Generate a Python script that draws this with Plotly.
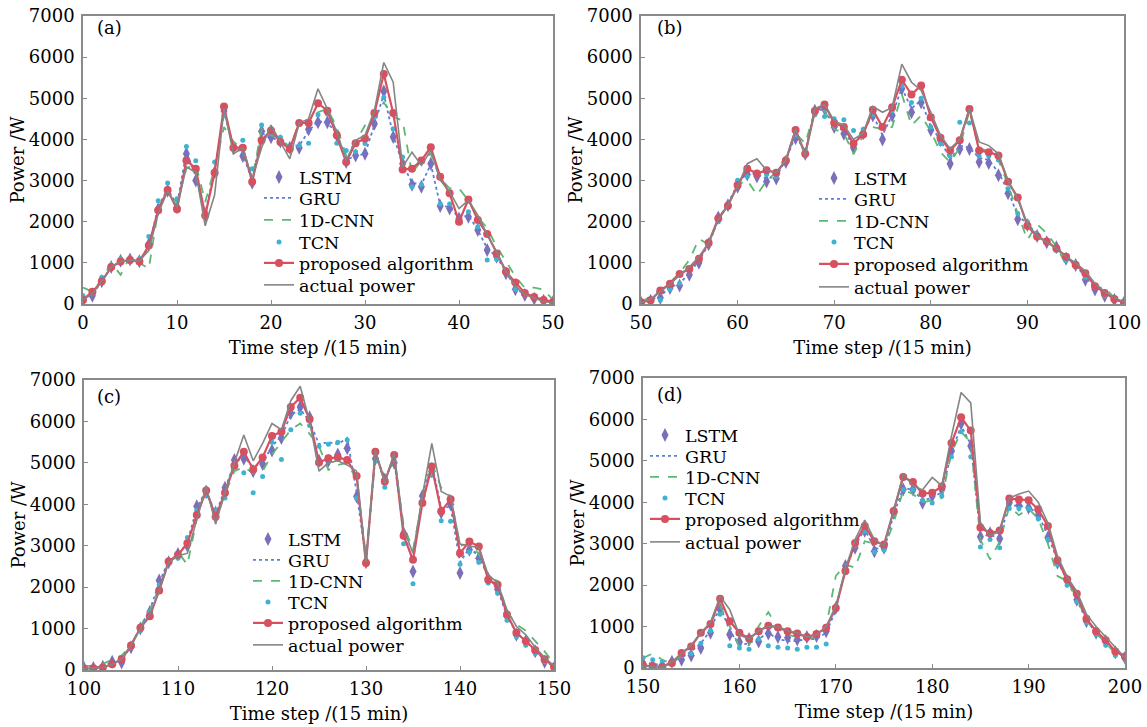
import plotly.graph_objects as go

# ---------------- data ----------------
steps_a = list(range(0, 51))
steps_b = list(range(50, 101))
steps_c = list(range(100, 151))
steps_d = list(range(150, 201))

series_names = ["LSTM", "GRU", "1D-CNN", "TCN", "proposed algorithm", "actual power"]
y_ticks = [0, 1000, 2000, 3000, 4000, 5000, 6000, 7000]
panel_labels = ["(a)", "(b)", "(c)", "(d)"]

# panel (a)
lstm_a = [100,200,550,900,1050,1080,1040,1450,2300,2750,2350,3650,3000,2150,3200,4700,3800,3600,2950,4200,4050,3950,3800,3800,4250,4420,4420,4100,3450,3610,3650,4380,5170,4060,3410,2900,2850,3410,2380,2320,2080,2120,1800,1310,1150,750,360,220,130,80,50]
gru_a = [120,220,560,880,1040,1070,1050,1400,2350,2800,2400,3700,3100,2200,3250,4650,3850,3650,3000,4150,4050,3950,3850,3850,4200,4450,4400,4150,3500,3600,3650,4350,5100,4100,3400,2950,2900,3400,2400,2350,2100,2150,1800,1350,1150,780,380,230,140,80,50]
cnn_a = [400,300,600,1000,710,1150,1000,855,2300,2800,2450,3300,3400,2480,3300,4300,3950,3750,3050,4250,4100,4050,3800,4400,4400,4660,4740,4300,3610,3940,4340,4540,4900,4550,4460,3170,3490,3650,3050,2810,2810,2520,2120,1840,1400,1030,670,390,400,350,100]
tcn_a = [200,250,650,900,1100,1050,1100,1640,2510,2940,2560,3830,3480,2250,3450,4580,3850,3980,3290,4350,4150,4050,3800,3850,3910,4600,4620,3910,3730,3700,3900,4540,5020,4260,3570,2850,2900,3770,2430,2430,2040,2240,1880,1070,1090,830,350,220,150,80,30]
prop_a = [100,300,550,900,1030,1070,1030,1420,2280,2770,2300,3490,3290,2150,3190,4800,3800,3800,2970,3980,4220,3940,3770,4400,4400,4880,4700,4100,3450,3910,4020,4640,5590,4640,3270,3290,3490,3810,3090,2690,2000,2540,2040,1700,1230,790,520,270,170,100,50]
actual_a = [100,250,550,900,1030,1070,1050,1300,2200,2750,2350,3330,3200,1900,2650,4750,3650,3800,3050,3800,4350,3950,3530,4400,4500,5230,4740,4180,3490,3980,4100,4700,5870,5390,3330,3690,3370,3730,3010,2730,2320,2520,2160,1680,1270,790,430,230,150,60,30]

# panel (b)
lstm_b = [30,80,150,390,450,710,1000,1450,2100,2400,2850,3150,3100,2980,3050,3450,4030,3650,4700,4750,4300,4140,3800,4150,4580,4000,4580,5230,4660,4900,4230,3980,3410,3770,3770,3450,3430,3130,2690,2060,1920,1650,1500,1380,1100,950,590,350,200,100,30]
gru_b = [40,100,200,400,500,750,1050,1450,2050,2450,2900,3200,3150,3050,3100,3500,4100,3700,4750,4700,4350,4200,3850,4200,4600,4100,4600,5250,4750,4950,4300,4000,3500,3850,3800,3550,3500,3200,2750,2150,1950,1700,1500,1400,1150,950,650,400,250,120,40]
cnn_b = [50,185,350,530,750,1070,1580,1450,2050,2400,2900,3010,2650,3000,3200,3600,4150,3900,4700,4700,4250,4150,3640,4100,4300,4250,4300,5100,4340,4580,4200,3690,3450,3800,4700,3800,3700,3500,2900,2200,1560,1940,1720,1400,950,1050,650,400,400,150,50]
tcn_b = [50,100,100,350,500,800,1050,1450,2000,2350,3010,3100,3200,3150,3100,3500,4100,3700,4600,4560,4500,4480,4220,4250,4600,4300,4700,5300,4900,5000,4300,3900,3600,4420,4400,3600,3600,3500,2800,2200,2000,1700,1500,1300,1050,900,650,400,200,100,30]
prop_b = [40,90,330,490,730,850,1100,1490,2080,2390,2890,3290,3170,3250,3190,3490,4230,3650,4690,4850,4400,4300,3900,4120,4720,4300,4780,5450,5090,5310,4540,4040,3730,3980,4740,3730,3690,3610,2970,2590,1900,1640,1520,1350,1150,950,750,430,270,120,30]
actual_b = [30,120,300,480,700,900,1150,1480,2050,2400,2850,3410,3530,3250,3200,3500,4250,3600,4750,4850,4450,4350,4000,4150,4800,4660,4780,5830,5390,5190,4660,4100,3770,4000,4750,3940,3850,3650,3000,2550,1950,1650,1500,1350,1150,1000,800,500,300,150,50]

# panel (c)
lstm_c = [50,50,80,200,180,550,1000,1400,2160,2600,2800,3000,3950,4300,3800,4400,5070,5100,4800,4970,5300,5600,6200,6350,6100,5050,5050,5200,5350,4190,2600,5100,4600,5000,3300,2380,4200,4800,3800,4000,2340,2900,2700,2200,1950,1300,850,700,450,200,50]
gru_c = [60,60,100,180,220,580,1050,1450,2100,2650,2750,3100,3900,4350,3750,4350,5000,5150,4900,5000,5400,5650,6150,6300,6000,5450,5500,5450,5600,4300,2650,5150,4650,5050,3350,2600,4250,5000,3900,3950,2600,2950,2750,2250,1950,1300,900,700,450,250,60]
cnn_c = [100,100,150,250,350,600,1050,1450,2000,2550,2850,2540,3650,4450,3600,4250,4800,4900,4750,4800,5200,5500,5800,5950,5700,5400,4830,4950,5000,4600,2750,5100,4600,5100,3500,2900,4100,5000,4400,4200,3000,3050,2800,2250,2150,1400,1100,950,700,450,150]
tcn_c = [50,50,80,150,250,550,950,1400,2050,2600,2700,3200,3850,4200,3850,4150,4900,4760,4280,4670,5500,5080,5800,6200,5900,5400,5450,5500,5550,4150,2650,5050,4410,5050,3050,2080,4100,4700,3600,3590,2550,2850,2600,2100,1850,1200,800,600,400,200,50]
prop_c = [30,40,60,140,260,590,1020,1300,1920,2620,2780,3060,3740,4330,3700,4280,4930,5270,4840,5130,5650,5750,6350,6570,6050,5010,5110,5130,5070,4680,2580,5270,4550,5190,3240,2660,4030,4910,3830,4120,2820,3100,2980,2180,2060,1340,900,700,480,260,80]
actual_c = [30,40,60,140,260,600,1000,1350,1900,2600,2750,2820,3620,4430,3520,4300,5000,5670,5050,5470,5950,5800,6500,6850,6000,4800,5000,5050,4950,4800,2600,5300,4500,5250,3400,2820,4200,5470,4310,4190,3040,3000,2950,2300,2100,1450,1050,850,550,300,100]

# panel (d)
lstm_d = [100,50,50,150,200,300,480,850,1410,810,630,700,640,830,750,730,690,750,770,890,1450,2460,2900,3310,2820,2900,3750,4310,4310,3990,4150,4310,5240,5900,5360,3170,3250,3120,3990,3930,3870,3690,3150,2540,2100,1650,1130,850,650,380,250]
gru_d = [150,100,80,120,250,400,600,900,1500,900,550,600,700,850,700,650,650,700,700,850,1400,2400,2950,3350,2900,2850,3700,4350,4300,4050,4100,4250,5200,5850,5400,3200,3200,3150,3950,3900,3900,3700,3200,2600,2100,1650,1150,850,600,400,250]
cnn_d = [240,350,200,100,300,500,800,1100,1500,1000,520,550,1010,1350,950,800,750,700,750,1000,2220,2500,2420,3060,3000,2900,3500,4300,4200,4000,4050,4100,5200,5700,5450,3100,2620,3050,3900,3690,3850,3600,3000,2220,2100,1700,1150,850,600,350,250]
tcn_d = [250,200,150,100,300,350,600,900,1300,540,480,450,700,540,500,480,450,500,500,580,1450,2300,2950,3300,2800,2850,3700,4300,4300,4050,3980,4150,5100,5700,5100,2920,3100,2900,3850,3850,3850,3600,3100,2500,2000,1600,1100,800,550,300,200]
prop_d = [60,40,30,120,360,520,850,1060,1670,1130,850,710,890,1020,980,890,830,750,820,970,1450,2340,3020,3430,3060,2980,3790,4610,4490,4210,4230,4380,5430,6050,5730,3390,3250,3320,4090,4070,4050,3830,3430,2600,2140,1790,1190,890,670,400,280]
actual_d = [50,30,20,150,350,550,850,1100,1730,1410,800,700,900,1000,1000,900,850,750,800,1000,1500,2400,3100,3570,3100,2950,3800,4680,4400,4300,4600,4400,5600,6650,6400,3510,3200,3300,4100,4200,4270,4000,3500,2700,2200,1850,1300,1000,750,500,250]

# ---------------- styling ----------------
FONT = "DejaVu Serif"
FS = 18
LFS = 17.5
W, H = 1147, 727

styles = {
    "LSTM": dict(mode="markers", marker=dict(symbol="diamond-tall", size=10, color="#7d6eb8")),
    "GRU": dict(mode="lines", line=dict(color="#5a7fd8", width=1.8, dash="dot")),
    "1D-CNN": dict(mode="lines", line=dict(color="#5cb874", width=1.8, dash="dash")),
    "TCN": dict(mode="markers", marker=dict(symbol="circle", size=5, color="#3fb2d2")),
    "proposed algorithm": dict(mode="lines+markers", line=dict(color="#d6505f", width=2.2),
                               marker=dict(symbol="circle", size=8, color="#d6505f")),
    "actual power": dict(mode="lines", line=dict(color="#858585", width=1.6)),
}

# legend rows: text left x, and row centre y for each entry (pixels)
panels = [
    dict(steps=steps_a, data=[lstm_a, gru_a, cnn_a, tcn_a, prop_a, actual_a], xr=[0, 50],
         xdom=[83, 553], ydom=[16, 304], leg_x=299, leg_y=[177, 198, 220, 242, 263, 285],
         label=(95, 28)),
    dict(steps=steps_b, data=[lstm_b, gru_b, cnn_b, tcn_b, prop_b, actual_b], xr=[50, 100],
         xdom=[641, 1124], ydom=[16, 304], leg_x=854, leg_y=[178, 199, 221, 242, 264, 287],
         label=(655, 28)),
    dict(steps=steps_c, data=[lstm_c, gru_c, cnn_c, tcn_c, prop_c, actual_c], xr=[100, 150],
         xdom=[84, 554], ydom=[380, 670], leg_x=288, leg_y=[539, 560, 581, 602, 623, 645],
         label=(95, 396)),
    dict(steps=steps_d, data=[lstm_d, gru_d, cnn_d, tcn_d, prop_d, actual_d], xr=[150, 200],
         xdom=[643, 1125], ydom=[378, 668], leg_x=685, leg_y=[435, 456, 477, 498, 519, 542],
         label=(655, 394)),
]

fig = go.Figure()
layout = dict(template="none", width=W, height=H,
              margin=dict(l=0, r=0, t=0, b=0, autoexpand=False),
              paper_bgcolor="white", plot_bgcolor="white",
              font=dict(family=FONT, size=FS, color="black"), annotations=[])

n_leg = 0
for i, p in enumerate(panels):
    k = "" if i == 0 else str(i + 1)
    xa, ya = "x" + k, "y" + k
    for j, (name, vals) in enumerate(zip(series_names, p["data"])):
        n_leg += 1
        lg = "legend" if n_leg == 1 else "legend" + str(n_leg)
        fig.add_trace(go.Scatter(x=p["steps"], y=vals, name=name, xaxis=xa, yaxis=ya,
                                 legend=lg, showlegend=True, **styles[name]))
        layout[lg] = dict(x=(p["leg_x"] - 40) / W, y=1 - p["leg_y"][j] / H,
                          xanchor="left", yanchor="middle", bgcolor="rgba(0,0,0,0)",
                          borderwidth=0, font=dict(family=FONT, size=LFS, color="black"),
                          itemwidth=30, tracegroupgap=0)
    axis_common = dict(showline=True, mirror=True, linecolor="#8a8a8a", linewidth=1.5,
                       ticks="inside", ticklen=4, tickcolor="#8a8a8a", showgrid=False,
                       zeroline=False, automargin=False,
                       tickfont=dict(family=FONT, size=FS, color="black"))
    layout["xaxis" + k] = dict(axis_common, range=p["xr"], dtick=10, anchor=ya,
                               ticklabelstandoff=2,
                               domain=[p["xdom"][0] / W, p["xdom"][1] / W],
                               title=dict(text="Time step /(15 min)", standoff=9,
                                          font=dict(family=FONT, size=FS)))
    layout["yaxis" + k] = dict(axis_common, range=[0, 7000], tickvals=y_ticks, anchor=xa,
                               ticklabelstandoff=3,
                               domain=[1 - p["ydom"][1] / H, 1 - p["ydom"][0] / H],
                               title=dict(text="Power /W", standoff=0,
                                          font=dict(family=FONT, size=FS)))
    layout["annotations"].append(dict(text=panel_labels[i], xref="paper", yref="paper",
                                      x=p["label"][0] / W, y=1 - p["label"][1] / H,
                                      xanchor="left", yanchor="middle", showarrow=False,
                                      font=dict(family=FONT, size=FS, color="black")))

fig.update_layout(**layout)
fig.write_html("out.html")
